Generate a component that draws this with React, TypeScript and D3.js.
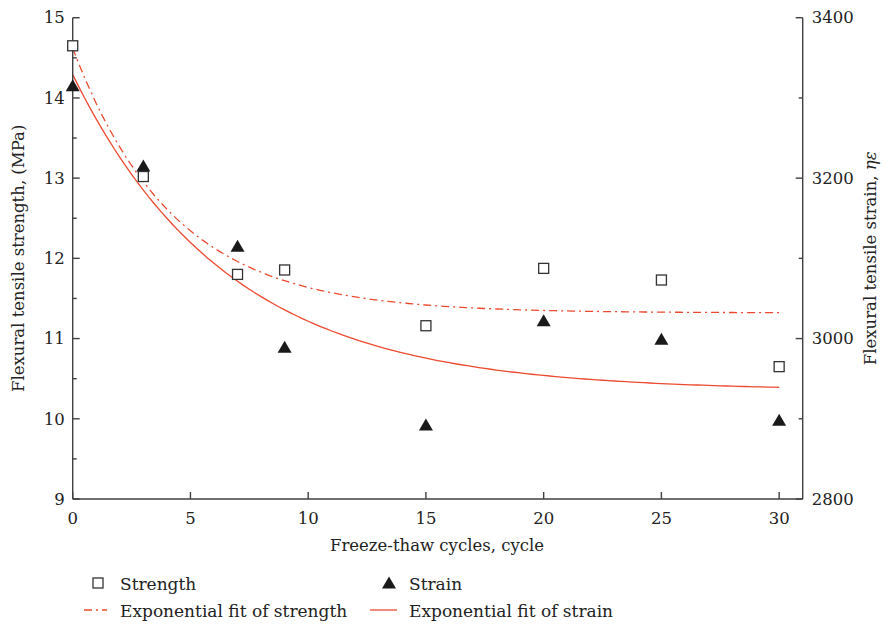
import React from "react";
import * as d3 from "d3";

const cycles = [0, 3, 7, 9, 15, 20, 25, 30];
const strength = [14.65, 13.02, 11.8, 11.855, 11.16, 11.875, 11.73, 10.65];
const strain = [3315, 3215, 3115, 2989, 2892, 3022, 2999, 2898];
// exponential fits: y = y0 + A * exp(-x / t)
const fitStrengthParams = [11.32, 3.3, 4.27];
const fitStrainParams = [2935, 394, 6.6];
const xTicks = [0, 5, 10, 15, 20, 25, 30];
const yLeftTicks = [9, 10, 11, 12, 13, 14, 15];
const yRightTicks = [2800, 3000, 3200, 3400];

const W = 885;
const H = 627;
const L = 72.7, R = 802.7, T = 17.7, B = 499;
const RED = "#ec4a2f";
const AX = "#404040";
const FONT = "'DejaVu Serif', serif";

export default function App() {
  const x = d3.scaleLinear().domain([0, 31]).range([L, R]);
  const yL = d3.scaleLinear().domain([9, 15]).range([B, T]);
  const yR = d3.scaleLinear().domain([2800, 3400]).range([B, T]);

  const fitX = d3.range(0, 30.001, 0.25);
  const fs = (v: number) => fitStrengthParams[0] + fitStrengthParams[1] * Math.exp(-v / fitStrengthParams[2]);
  const fe = (v: number) => fitStrainParams[0] + fitStrainParams[1] * Math.exp(-v / fitStrainParams[2]);
  const lineS = d3.line<number>().x((d) => x(d)).y((d) => yL(fs(d)))(fitX) || "";
  const lineE = d3.line<number>().x((d) => x(d)).y((d) => yR(fe(d)))(fitX) || "";

  const leftMinor = d3.range(9.5, 15, 1);
  const rightMinor = d3.range(2900, 3400, 200);

  const sq = 10;
  const tri = (cx: number, cy: number, w = 14, h = 12) =>
    `M${cx},${cy - h * 0.55}L${cx + w / 2},${cy + h * 0.45}L${cx - w / 2},${cy + h * 0.45}Z`;

  return (
    <svg width={W} height={H} style={{ display: "block", position: "absolute", left: 0, top: 0, fontFamily: FONT }}>
      <rect width={W} height={H} fill="#fff" />
      {/* fits */}
      <path d={lineS} fill="none" stroke={RED} strokeWidth={1.3} strokeDasharray="8,4,2,4" />
      <path d={lineE} fill="none" stroke={RED} strokeWidth={1.3} />
      {/* axes */}
      <g stroke={AX} strokeWidth={1.4} fill="none">
        <line x1={L} y1={T} x2={L} y2={B} />
        <line x1={R} y1={T} x2={R} y2={B} />
        <line x1={L} y1={B} x2={R} y2={B} />
        {yLeftTicks.map((t) => (
          <line key={"lt" + t} x1={L} x2={L + 7} y1={yL(t)} y2={yL(t)} />
        ))}
        {leftMinor.map((t) => (
          <line key={"lm" + t} x1={L} x2={L + 4} y1={yL(t)} y2={yL(t)} />
        ))}
        {yRightTicks.map((t) => (
          <line key={"rt" + t} x1={R} x2={R - 7} y1={yR(t)} y2={yR(t)} />
        ))}
        {rightMinor.map((t) => (
          <line key={"rm" + t} x1={R} x2={R - 4} y1={yR(t)} y2={yR(t)} />
        ))}
        {xTicks.map((t) => (
          <line key={"xt" + t} x1={x(t)} x2={x(t)} y1={B} y2={B - 7} />
        ))}
      </g>
      {/* tick labels */}
      <g fontSize={16.5} fill="#222">
        {yLeftTicks.map((t) => (
          <text key={"ll" + t} x={L - 8} y={yL(t)} dy="0.35em" textAnchor="end">{t}</text>
        ))}
        {yRightTicks.map((t) => (
          <text key={"rl" + t} x={R + 9} y={yR(t)} dy="0.35em" textAnchor="start">{t}</text>
        ))}
        {xTicks.map((t) => (
          <text key={"xl" + t} x={x(t)} y={B + 25} textAnchor="middle">{t}</text>
        ))}
      </g>
      {/* axis titles */}
      <g fontSize={16.5} fill="#222">
        <text x={437} y={551} textAnchor="middle">Freeze-thaw cycles, cycle</text>
        <text transform={`translate(24,${(T + B) / 2}) rotate(-90)`} textAnchor="middle">
          Flexural tensile strength, (MPa)
        </text>
        <text transform={`translate(876,${(T + B) / 2}) rotate(-90)`} textAnchor="middle">
          Flexural tensile strain, <tspan fontStyle="italic">ηε</tspan>
        </text>
      </g>
      {/* markers */}
      {cycles.map((c, i) => (
        <path key={"tr" + i} d={tri(x(c), yR(strain[i]))} fill="#1a1a1a" />
      ))}
      {cycles.map((c, i) => (
        <rect key={"sq" + i} x={x(c) - sq / 2} y={yL(strength[i]) - sq / 2} width={sq} height={sq}
          fill="#fff" stroke="#333" strokeWidth={1.3} />
      ))}
      {/* legend */}
      <g fontSize={17} fill="#222">
        <rect x={93} y={578} width={10} height={10} fill="#fff" stroke="#333" strokeWidth={1.3} />
        <text x={120} y={590}>Strength</text>
        <path d={tri(389, 583)} fill="#1a1a1a" />
        <text x={409} y={590}>Strain</text>
        <line x1={84} x2={107} y1={610} y2={610} stroke={RED} strokeWidth={1.3} strokeDasharray="8,4,2,4" />
        <text x={120} y={617}>Exponential fit of strength</text>
        <line x1={370} x2={397} y1={610} y2={610} stroke={RED} strokeWidth={1.3} />
        <text x={409} y={617}>Exponential fit of strain</text>
      </g>
    </svg>
  );
}
